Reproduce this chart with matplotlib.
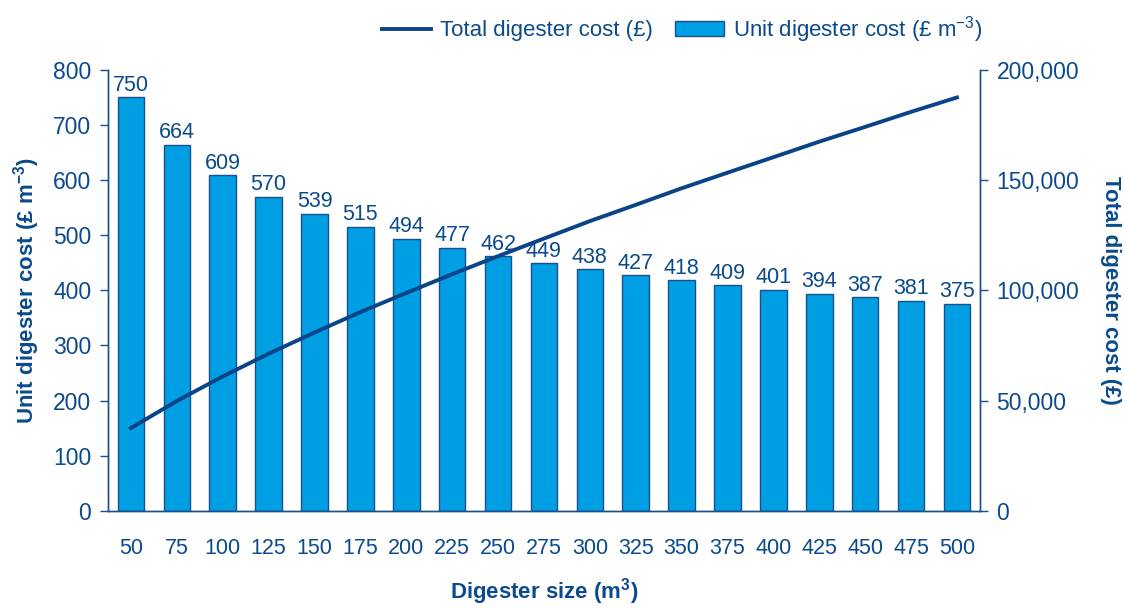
import matplotlib.pyplot as plt
import numpy as np

# --- Data ---
sizes = [50, 75, 100, 125, 150, 175, 200, 225, 250, 275, 300, 325, 350,
         375, 400, 425, 450, 475, 500]
unit_cost = [750, 664, 609, 570, 539, 515, 494, 477, 462, 449, 438, 427,
             418, 409, 401, 394, 387, 381, 375]
total_cost = [37500, 49800, 60900, 71250, 80850, 90125, 98800, 107325,
              115500, 123475, 131400, 138775, 146300, 153375, 160400,
              167450, 174150, 180975, 187500]

text_col = "#0b4a8c"
bar_col = "#009fe3"
edge_col = "#1a4f8f"
line_col = "#0a4488"

plt.rcParams["font.family"] = ["Liberation Sans", "DejaVu Sans"]
plt.rcParams["mathtext.fontset"] = "custom"
plt.rcParams["mathtext.rm"] = "Liberation Sans"
plt.rcParams["mathtext.bf"] = "Liberation Sans:bold"

fig = plt.figure(figsize=(11.25, 6.08), dpi=100)
ax = fig.add_axes([0.096, 0.16, 0.775, 0.725])
ax2 = ax.twinx()

x = np.arange(len(sizes))
bars = ax.bar(x, unit_cost, width=0.58, color=bar_col, edgecolor=edge_col,
              linewidth=1.0, zorder=2,
              label=r"Unit digester cost (£ m$^{\mathregular{-3}}$)")
for xi, v in zip(x, unit_cost):
    ax.text(xi, v + 3, str(v), ha="center", va="bottom", fontsize=15.5,
            color=text_col)

line, = ax2.plot(x, total_cost, color=line_col, linewidth=2.8,
                 label="Total digester cost (£)")

ax.set_xlim(-0.5, len(sizes) - 0.5)
ax.set_ylim(0, 800)
ax.set_yticks(range(0, 801, 100))
ax2.set_ylim(0, 200000)
ax2.set_yticks(range(0, 200001, 50000))
ax2.set_yticklabels(["{:,}".format(v) for v in range(0, 200001, 50000)])

ax.set_xticks(x)
ax.set_xticklabels([str(s) for s in sizes])

for a in (ax, ax2):
    a.spines["top"].set_visible(False)
    for s in ("left", "right", "bottom"):
        a.spines[s].set_color(edge_col)
        a.spines[s].set_linewidth(1.0)
    a.tick_params(axis="y", colors=edge_col, labelcolor=text_col,
                  labelsize=16.5, length=6, width=1.0, direction="out", pad=6)
ax.tick_params(axis="x", length=0, labelcolor=text_col, labelsize=15.5,
               pad=20)

ax.set_ylabel(r"Unit digester cost (£ m$^{\mathbf{-3}}$)", fontsize=16,
              fontweight="bold", color=text_col, labelpad=8)
ax2.set_ylabel("Total digester cost (£)", fontsize=16, fontweight="bold",
               color=text_col, rotation=270, labelpad=30)
ax.set_xlabel(r"Digester size (m$^{\mathbf{3}}$)", fontsize=16,
              fontweight="bold", color=text_col, labelpad=12)

leg = fig.legend(handles=[line, bars], loc="upper center",
                 bbox_to_anchor=(0.606, 1.01), ncol=2, frameon=False,
                 fontsize=16, handlelength=2.2, columnspacing=1.0,
                 handletextpad=0.4)
for t in leg.get_texts():
    t.set_color(text_col)

fig.savefig("out.png", dpi=100)
